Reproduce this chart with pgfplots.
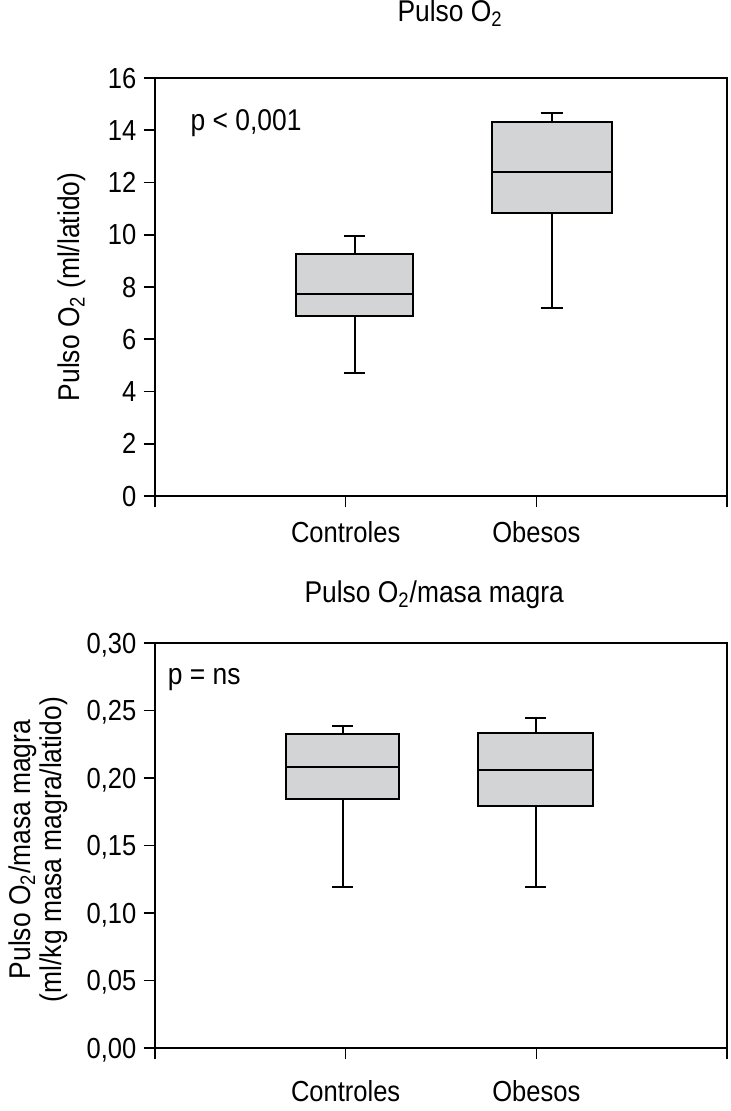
\documentclass[border=0pt]{standalone}
\usepackage{fontspec}
\setmainfont{Liberation Sans}[FakeStretch=0.88]
\usepackage{pgfplots}
\pgfplotsset{compat=1.18}
\usepgfplotslibrary{statistics}
\definecolor{boxgray}{RGB}{211,212,214}
\pgfplotsset{
  common/.style={
    scale only axis,
    width=286pt,
    xmin=0, xmax=3,
    xtick={0,1,2,3},
    xticklabels={{},Controles,Obesos,{}},
    tick align=outside,
    xtick pos=left, ytick pos=left,
    major tick length=5.75pt,
    axis line style={line width=0.8pt, black},
    tick style={line width=0.8pt, black},
    /pgf/number format/assume math mode=true,
    tick label style={font=\fontsize{14.5}{17}\selectfont, inner sep=0pt},
    yticklabel style={anchor=east, text depth=0pt, xshift=-3.4pt},
    xticklabel style={anchor=base, yshift=-17.75pt},
    title style={font=\fontsize{15}{18}\selectfont, anchor=base},
    ylabel style={font=\fontsize{15}{15.5}\selectfont, anchor=center, align=center, inner sep=0pt},
    boxplot/draw direction=y,
  },
  bx/.style={draw=black, fill=boxgray, line width=1pt, solid, mark=none},
}
\begin{document}
\begin{tikzpicture}
\path[use as bounding box] (0,0) rectangle (365pt,555.5pt);
% ---------- top panel ----------
\begin{axis}[common,
  at={(77.5pt,307.5pt)}, anchor=south west,
  height=209pt,
  ymin=0, ymax=16,
  ytick={0,2,4,6,8,10,12,14,16},
  title={Pulso O\textsubscript{2}},
  title style={at={(axis description cs:0.516,1)}, yshift=22.2pt},
  ylabel={Pulso O\textsubscript{2} (ml/latido)},
  ylabel style={at={(axis description cs:-0.145,0.5)}},
]
\addplot+[bx, boxplot prepared={draw position=1.047, lower whisker=4.70, lower quartile=6.88, median=7.74, upper quartile=9.26, upper whisker=9.97, box extend=0.61, whisker extend=0.11}] coordinates {};
\addplot+[bx, boxplot prepared={draw position=2.082, lower whisker=7.18, lower quartile=10.84, median=12.40, upper quartile=14.30, upper whisker=14.66, box extend=0.634, whisker extend=0.12}] coordinates {};
\node[anchor=base west, inner sep=0pt, font=\fontsize{15}{18}\selectfont] at (axis cs:0.185,14.0) {p < 0,001};
\end{axis}
% ---------- bottom panel ----------
\begin{axis}[common,
  at={(77.5pt,31.5pt)}, anchor=south west,
  height=202.5pt,
  ymin=0, ymax=0.30,
  ytick={0,0.05,0.1,0.15,0.2,0.25,0.3},
  yticklabels={{0,00},{0,05},{0,10},{0,15},{0,20},{0,25},{0,30}},
  xticklabel style={yshift=-3pt},
  title={Pulso O\textsubscript{2}/masa magra},
  title style={at={(axis description cs:0.488,1)}, yshift=14pt},
  ylabel={Pulso O\textsubscript{2}/masa magra\\(ml/kg masa magra/latido)},
  ylabel style={at={(axis description cs:-0.2045,0.49)}},
]
\addplot+[bx, boxplot prepared={draw position=0.984, lower whisker=0.1191, lower quartile=0.1841, median=0.2082, upper quartile=0.2325, upper whisker=0.2385, box extend=0.592, whisker extend=0.11}] coordinates {};
\addplot+[bx, boxplot prepared={draw position=1.996, lower whisker=0.1191, lower quartile=0.1793, median=0.2059, upper quartile=0.2330, upper whisker=0.2448, box extend=0.604, whisker extend=0.11}] coordinates {};
\node[anchor=base west, inner sep=0pt, font=\fontsize{15}{18}\selectfont] at (axis cs:0.066,0.2689) {p = ns};
\end{axis}
\end{tikzpicture}
\end{document}
